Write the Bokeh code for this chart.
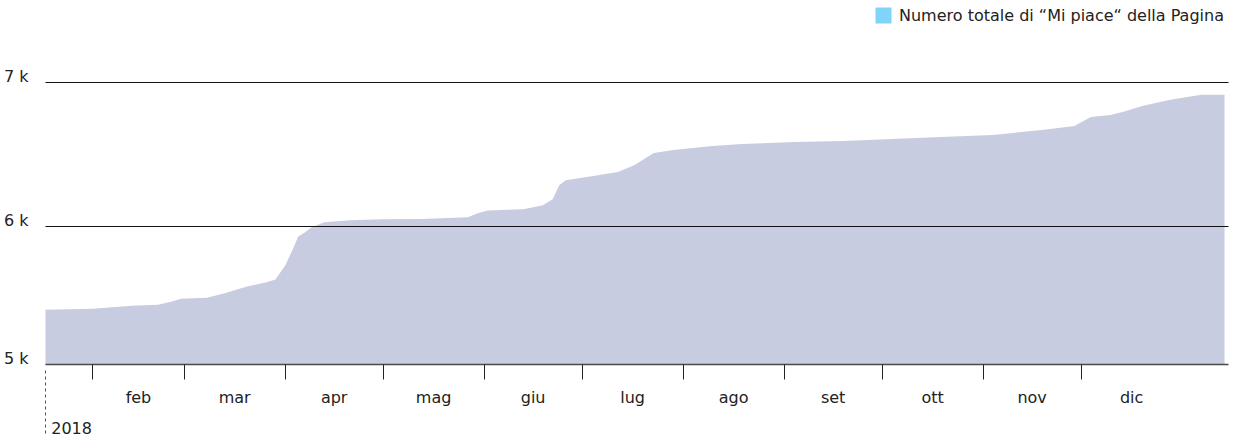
from datetime import datetime, timedelta
import pandas as pd
from bokeh.plotting import figure
from bokeh.models import (ColumnDataSource, FixedTicker, LinearAxis, Grid,
                          CustomJSTickFormatter, Legend, LegendItem, Range1d)
from bokeh.embed import file_html
from bokeh.resources import INLINE

# ---------------- data ----------------
dates = ["2018-01-17", "2018-02-01", "2018-02-13", "2018-02-21", "2018-02-25",
         "2018-02-28", "2018-03-08", "2018-03-14", "2018-03-20", "2018-03-26",
         "2018-03-29", "2018-04-01", "2018-04-03", "2018-04-05", "2018-04-07",
         "2018-04-09", "2018-04-13", "2018-04-21", "2018-05-01", "2018-05-13",
         "2018-05-27", "2018-05-30", "2018-06-02", "2018-06-13", "2018-06-19",
         "2018-06-22", "2018-06-24", "2018-06-26", "2018-07-04", "2018-07-12",
         "2018-07-17", "2018-07-23", "2018-07-29", "2018-08-10", "2018-08-19",
         "2018-09-04", "2018-09-19", "2018-10-04", "2018-10-19", "2018-11-04",
         "2018-11-19", "2018-11-29", "2018-12-04", "2018-12-10", "2018-12-14",
         "2018-12-20", "2018-12-28", "2019-01-03", "2019-01-07", "2019-01-14"]
likes = [5425, 5432, 5453, 5460, 5481,
         5501, 5508, 5543, 5585, 5613,
         5634, 5731, 5828, 5933, 5960,
         5995, 6030, 6044, 6051, 6054,
         6065, 6093, 6113, 6120, 6148,
         6190, 6287, 6322, 6350, 6378,
         6426, 6510, 6531, 6558, 6572,
         6586, 6593, 6607, 6621, 6635,
         6670, 6698, 6760, 6774, 6795,
         6837, 6878, 6899, 6913, 6913]
month_names = ["gen", "feb", "mar", "apr", "mag", "giu", "lug", "ago",
               "set", "ott", "nov", "dic"]
y_ticks = [6000, 7000]
series_label = "Numero totale di \u201cMi piace\u201c della Pagina"

# ---------------- helpers ----------------
def ms(ts):
    return pd.Timestamp(ts).value / 1e6

x_start = datetime(2018, 1, 17, 12)
x_end = datetime(2019, 1, 15, 5)
# the frame reaches to the top of the figure so the legend can sit inside it
y_start, y_end = 5046, 7566
LABEL_SHIFT = 40   # lifts the y labels so they sit on their grid line

month_starts = pd.date_range("2018-02-01", "2019-01-01", freq="MS")
month_mids = [ms(a + (b - a) / 2) for a, b in zip(month_starts[:-1], month_starts[1:])]
month_bounds = [ms(d) for d in month_starts[:-1]]

FONT = "DejaVu Sans"
TXT = "#222222"

src = ColumnDataSource(dict(date=pd.to_datetime(dates), likes=likes,
                            base=[y_start - 100] * len(likes)))

p = figure(width=1229, height=436, x_axis_type=None, y_axis_type=None,
           x_range=Range1d(x_start, x_end), y_range=Range1d(y_start, y_end),
           output_backend="svg", toolbar_location=None,
           min_border_left=44, min_border_right=1, min_border_top=0,
           min_border_bottom=0)
p.outline_line_color = None
p.background_fill_color = "white"

area = p.varea(x="date", y1="base", y2="likes", source=src,
               fill_color="#c7cce0")

# legend swatch: same series, hidden in the plot, only lends its colour to the legend
swatch = p.varea(x="date", y1="base", y2="likes", source=src,
                 fill_color="#80d4f7", visible=False)

# grid lines drawn above the area
grid = Grid(dimension=1, ticker=FixedTicker(ticks=y_ticks),
            grid_line_color="#111111", grid_line_width=1)
grid.level = "overlay"
p.add_layout(grid)

# y axis (labels sit just above their line)
yaxis = LinearAxis(ticker=FixedTicker(ticks=[y_start + LABEL_SHIFT] +
                                      [t + LABEL_SHIFT for t in y_ticks]),
                   formatter=CustomJSTickFormatter(code="return Math.round(tick/1000) + ' k'"),
                   axis_line_color=None, major_tick_line_color=None,
                   minor_tick_line_color=None, major_tick_out=0, major_tick_in=0,
                   major_label_standoff=17,
                   major_label_text_font=FONT, major_label_text_font_size="16px",
                   major_label_text_color=TXT)
p.add_layout(yaxis, "left")

# x axis: month boundary ticks + month names in between
xaxis = LinearAxis(ticker=FixedTicker(ticks=month_mids, minor_ticks=month_bounds),
                   formatter=CustomJSTickFormatter(args=dict(names=month_names),
                       code="return names[new Date(tick).getUTCMonth()]"),
                   axis_line_color="#4a4a4a", axis_line_width=1.5,
                   major_tick_line_color=None, major_tick_out=15, major_tick_in=0,
                   minor_tick_line_color="#222222", minor_tick_line_width=1,
                   minor_tick_out=15, minor_tick_in=0,
                   major_label_standoff=8,
                   major_label_text_font=FONT, major_label_text_font_size="16px",
                   major_label_text_color=TXT)
p.add_layout(xaxis, "below")

# year axis: dashed start marker + year label
year_axis = LinearAxis(ticker=FixedTicker(ticks=[ms(x_start + timedelta(days=8))],
                                          minor_ticks=[ms(x_start + timedelta(hours=2))]),
                       formatter=CustomJSTickFormatter(
                           code="return String(new Date(tick).getUTCFullYear())"),
                       axis_line_color=None, major_tick_line_color=None,
                       major_tick_out=0, major_tick_in=0,
                       minor_tick_line_color="#555555", minor_tick_line_width=1,
                       minor_tick_line_dash="3 3", minor_tick_in=42, minor_tick_out=24,
                       major_label_standoff=-12,
                       major_label_text_font=FONT, major_label_text_font_size="16px",
                       major_label_text_color=TXT)
p.add_layout(year_axis, "below")

# legend in the top band of the frame
legend = Legend(items=[LegendItem(label=series_label, renderers=[swatch])],
                location=(828, 339), orientation="horizontal",
                border_line_color=None, background_fill_alpha=0,
                inactive_fill_alpha=0,
                label_text_font=FONT, label_text_font_size="16px",
                label_text_color=TXT, glyph_width=20, glyph_height=20,
                label_standoff=6, padding=2, margin=0)
p.add_layout(legend)

open("out.html", "w").write(file_html(p, INLINE))
